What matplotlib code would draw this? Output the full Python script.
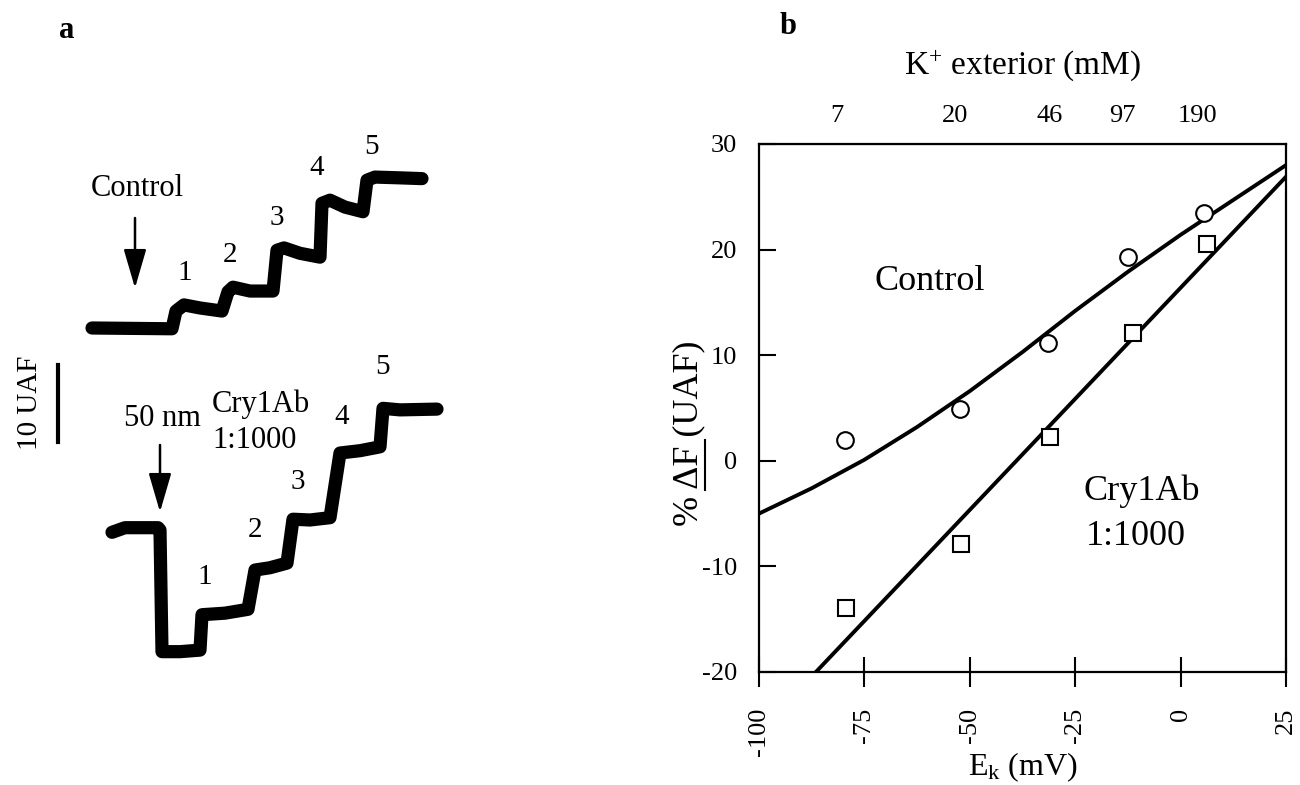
import numpy as np
import matplotlib.pyplot as plt
from matplotlib.lines import Line2D

plt.rcParams['font.family'] = ['Liberation Serif', 'DejaVu Serif']
plt.rcParams['mathtext.fontset'] = 'custom'
plt.rcParams['mathtext.rm'] = 'Liberation Serif'
plt.rcParams['mathtext.it'] = 'Liberation Serif:italic'
plt.rcParams['axes.unicode_minus'] = False

# panel a: fluorescence traces, UAF relative to the starting baseline
ctrl_t = [92, 172, 176, 184, 200, 222, 228, 233, 250, 273, 277, 284, 300, 320,
          322, 330, 345, 363, 367, 375, 400, 422]
ctrl_f = [0.0, -0.1, 2.2, 3.0, 2.6, 2.2, 4.7, 5.3, 4.8, 4.8, 10.1, 10.4, 9.7, 9.2,
          16.2, 16.6, 15.7, 15.1, 19.2, 19.6, 19.5, 19.4]
cry_t = [112, 125, 158, 160, 162, 180, 200, 202, 225, 248, 255, 270, 287, 293,
         310, 330, 340, 360, 380, 383, 400, 437]
cry_f = [-0.3, 0.3, 0.3, 0.0, -15.8, -15.8, -15.6, -11.0, -10.8, -10.3, -5.2, -4.9,
         -4.3, 1.4, 1.3, 1.6, 10.0, 10.3, 10.8, 15.8, 15.6, 15.7]
step_labels = ['1', '2', '3', '4', '5']

# panel b: % dF vs Ek
ek_ctrl = [-79.6, -52.4, -31.4, -12.5, 5.5]
df_ctrl = [2.0, 4.9, 11.2, 19.3, 23.5]
ek_cry = [-79.4, -52.2, -30.9, -11.2, 6.2]
df_cry = [-13.9, -7.9, 2.3, 12.1, 20.5]
fit_ctrl_x = [-100, -87.5, -75, -62.5, -50, -37.5, -25, -12.5, 0, 12.5, 25]
fit_ctrl_y = [-5.0, -2.6, 0.1, 3.2, 6.6, 10.3, 14.2, 17.9, 21.4, 24.7, 28.0]
fit_cry_x = [-86.5, 25]
fit_cry_y = [-20.0, 26.9]
k_ext = ['7', '20', '46', '97', '190']
k_ek = [-81.5, -53.5, -31.0, -13.7, 3.9]

fig = plt.figure(figsize=(13, 7.85), dpi=100)

# ---- panel a (x in px-like time units, y in UAF)
ya0 = 328          # pixel row of the control baseline
k = 7.7            # px per UAF
cry_off = (328 - 530) / k

def pa(x, y):
    return x, (ya0 - y) / k

axa = fig.add_axes([0, 0, 455 / 1300, 1])
axa.set_xlim(0, 455)
axa.set_ylim((ya0 - 785) / k, ya0 / k)
axa.axis('off')

axa.plot(ctrl_t, ctrl_f, color='k', lw=9.5, solid_capstyle='round', solid_joinstyle='round')
axa.plot(cry_t, np.array(cry_f) + cry_off, color='k', lw=9.5,
         solid_capstyle='round', solid_joinstyle='round')

arr = dict(arrowstyle='-|>,head_length=1.2,head_width=0.35', lw=1.8, color='k',
           mutation_scale=20, shrinkA=0, shrinkB=0)
axa.annotate('', xy=pa(135, 288), xytext=pa(135, 218), arrowprops=arr)
axa.annotate('', xy=pa(160, 512), xytext=pa(160, 445), arrowprops=arr)

axa.text(*pa(137, 188), 'Control', fontsize=22, ha='center', va='center')
axa.text(*pa(162, 418), '50 nm', fontsize=22, ha='center', va='center')
axa.text(*pa(261, 404), 'Cry1Ab', fontsize=22, ha='center', va='center')
axa.text(*pa(255, 440), '1:1000', fontsize=22, ha='center', va='center')

for lab, (x, y) in zip(step_labels, [(185, 273), (230, 255), (277, 218), (317, 168), (372, 147)]):
    axa.text(*pa(x, y), lab, fontsize=21, ha='center', va='center')
for lab, (x, y) in zip(step_labels, [(205, 577), (255, 530), (298, 482), (342, 417), (383, 367)]):
    axa.text(*pa(x, y), lab, fontsize=21, ha='center', va='center')

# 10 UAF scale bar
sb = pa(58, 442)
axa.plot([sb[0], sb[0]], [sb[1], sb[1] + 10], color='k', lw=3)
axa.text(*pa(30, 403), '10 UAF', fontsize=21, rotation=90, ha='center', va='center')

fig.text(67 / 1300, 1 - 30 / 785, 'a', fontsize=22, fontweight='bold', ha='center', va='center')
fig.text(788 / 1300, 1 - 26 / 785, 'b', fontsize=22, fontweight='bold', ha='center', va='center')

# ---- panel b
ax = fig.add_axes([759 / 1300, 1 - 672 / 785, 527 / 1300, 528 / 785])
ax.plot(fit_ctrl_x, fit_ctrl_y, color='k', lw=2.8, zorder=2)
ax.plot(fit_cry_x, fit_cry_y, color='k', lw=2.8, zorder=2)
ax.plot(ek_ctrl, df_ctrl, 'o', ms=12, mfc='white', mec='k', mew=1.5, zorder=3)
ax.plot(ek_cry, df_cry, 's', ms=11.5, mfc='white', mec='k', mew=1.5, zorder=3)

ax.set_xlim(-100, 25)
ax.set_ylim(-20, 30)
ax.set_xticks([-100, -75, -50, -25, 0, 25])
ax.set_yticks([-20, -10, 0, 10, 20, 30])
ax.tick_params(axis='x', direction='inout', length=21, width=1.5, pad=15.5,
               labelsize=19, labelrotation=90)
ax.tick_params(axis='y', direction='in', length=12, width=1.5, pad=16, labelsize=19)
for s in ax.spines.values():
    s.set_linewidth(1.6)

ax.set_xlabel('E$_\\mathrm{k}$ (mV)', fontsize=23)
ax.xaxis.set_label_coords(0.5, -0.148)
ax.set_ylabel('% ΔF (UAF)', fontsize=26)
ax.yaxis.set_label_coords(-0.1025, 0.452)
fig.add_artist(Line2D([705 / 1300, 705 / 1300], [1 - 440 / 785, 1 - 490 / 785],
                      color='k', lw=1.5))

sec = ax.secondary_xaxis('top')
sec.set_xticks(k_ek, k_ext)
sec.tick_params(length=0, pad=12, labelsize=19)
sec.set_xlabel('K$^{+}$ exterior (mM)', fontsize=24, labelpad=23)

ax.text(-59.4, 17.0, 'Control', fontsize=26, ha='center', va='center')
ax.text(-9.2, -2.9, 'Cry1Ab', fontsize=26, ha='center', va='center')
ax.text(-10.6, -7.2, '1:1000', fontsize=26, ha='center', va='center')

fig.savefig('out.png', dpi=100)
